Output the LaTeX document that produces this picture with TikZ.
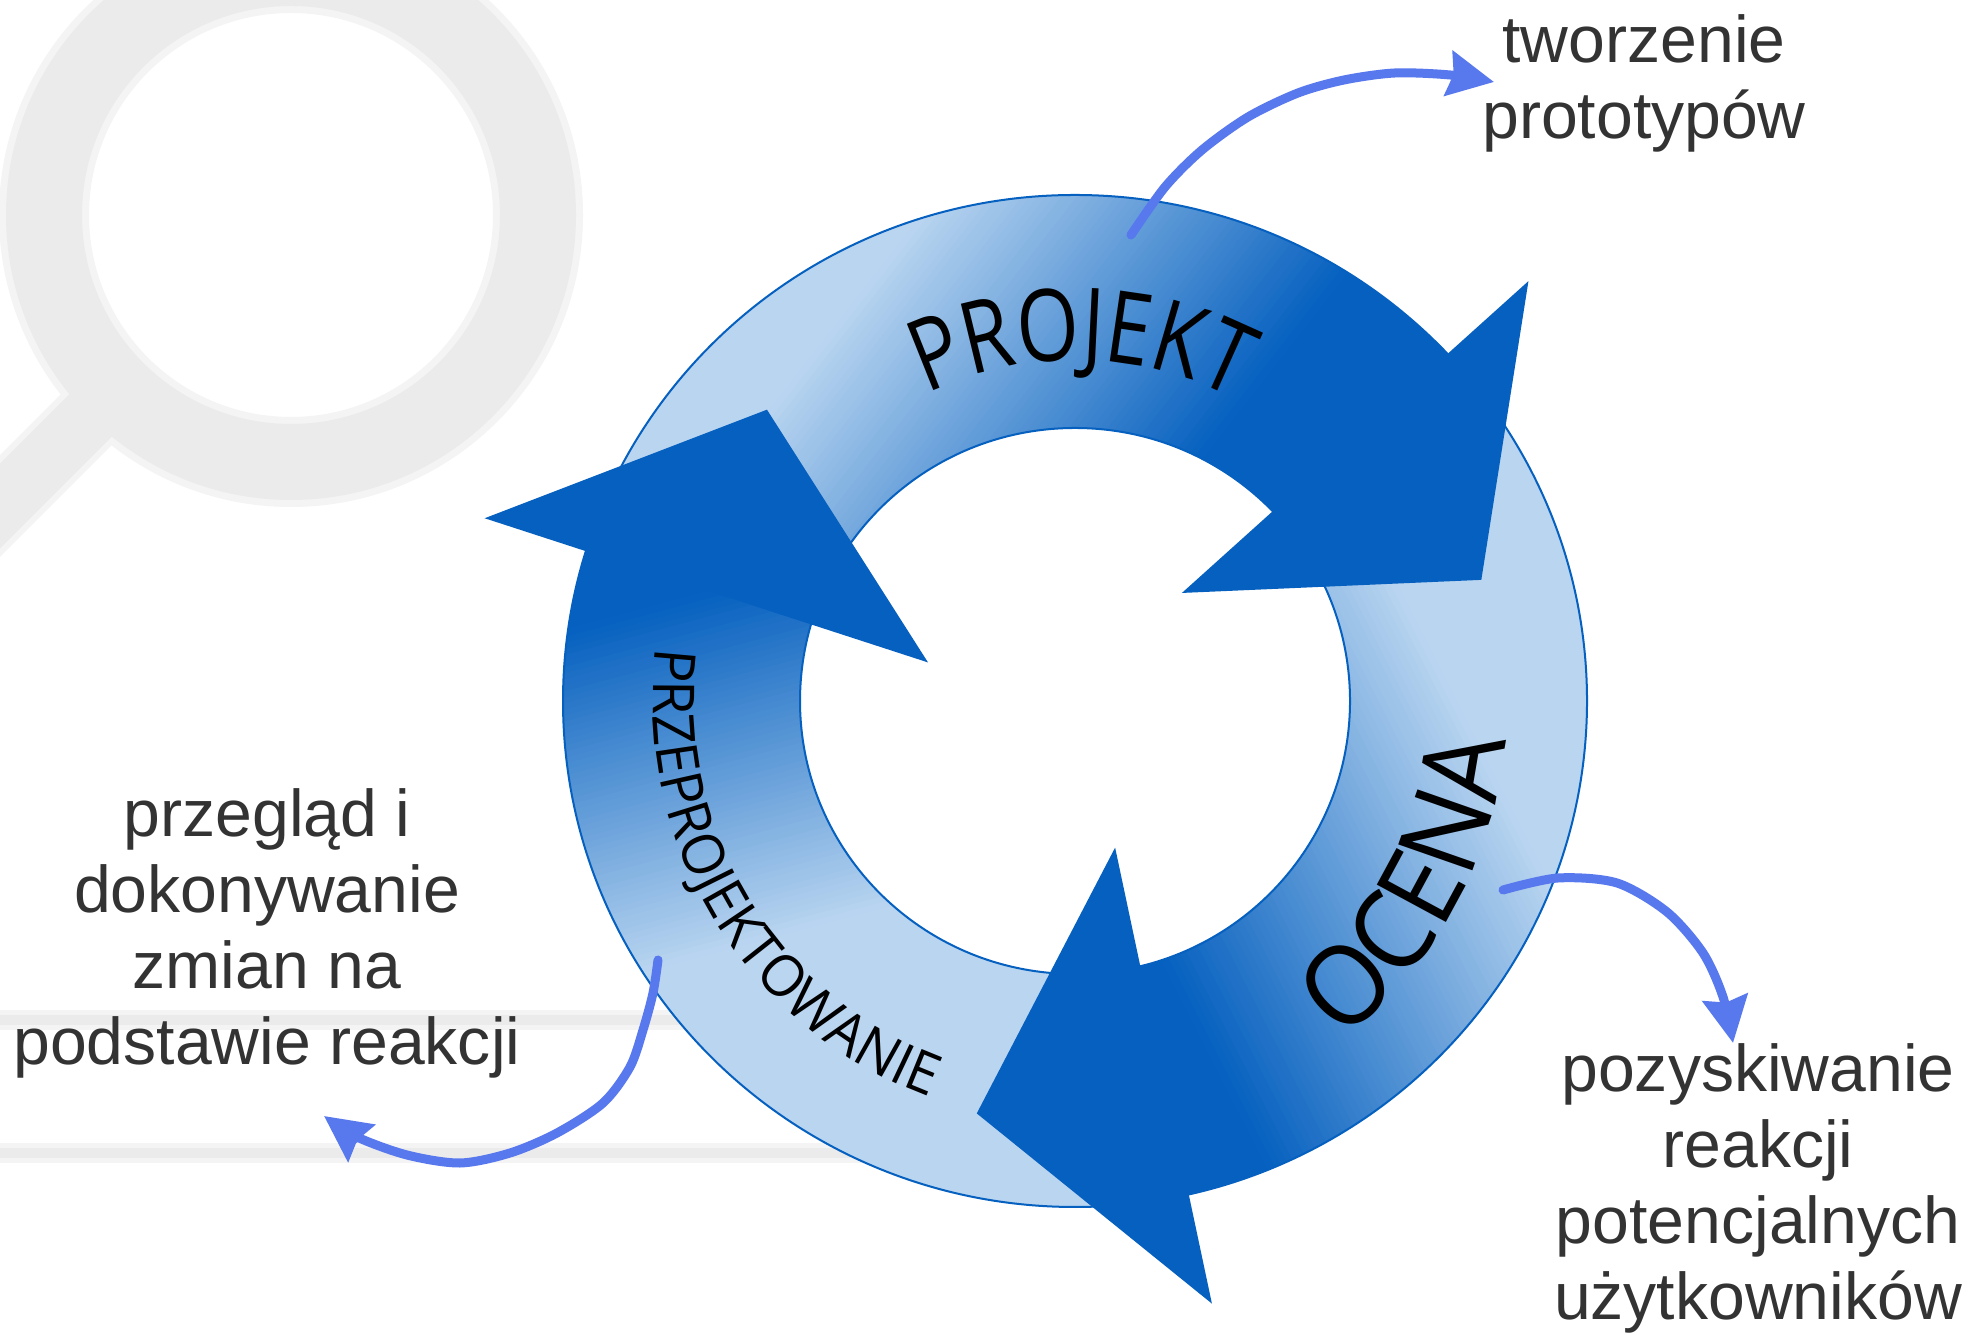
\documentclass[tikz,border=0pt]{standalone}
\usepackage{fontspec}
\setmainfont{Liberation Sans}
\newfontfamily\ringfont[FakeStretch=0.96]{Open Sans}
\newfontfamily\ringfontnarrow[FakeStretch=0.8]{Open Sans}
\newfontfamily\ringfontwide[FakeStretch=0.95]{Open Sans}
\usetikzlibrary{calc,decorations.text,arrows.meta}
\definecolor{ltblue}{RGB}{185,213,240}
\definecolor{dkblue}{RGB}{5,96,191}
\definecolor{conn}{RGB}{88,120,238}
\definecolor{txt}{RGB}{51,51,51}
\definecolor{bggray}{RGB}{235,235,235}
\definecolor{bgsoft}{RGB}{244,244,244}
\newcommand\projstyle{\ringfontnarrow\fontsize{28.45pt}{30pt}\selectfont}
\newcommand\ocenastyle{\ringfontwide\fontsize{31.3pt}{33pt}\selectfont}
\newcommand\przestyle{\ringfont\fontsize{16.4pt}{17pt}\selectfont}
\begin{document}
\begin{tikzpicture}[x=0.01cm, y=0.01cm,
  lbl/.style={font=\fontsize{18.8pt}{21.6pt}\selectfont, text=txt, align=center, inner sep=0pt},
  connector/.style={draw=conn, line width=0.09cm, line cap=round, line join=round,
    -{Stealth[length=0.46cm, width=0.45cm, inset=0.05cm]}},
  ringline/.style={draw=dkblue, line width=0.02cm},
  band/.style={line width=0.1cm, draw=bggray},
  bandsoft/.style={line width=0.2cm, draw=bgsoft},
]
\fill[white] (0,0) rectangle (1986,1340);
\useasboundingbox (0,0) rectangle (1986,1340);
\clip (0,0) rectangle (1986,1340);

% background magnifier icon
\coordinate (M) at (291,1125);
\fill[bgsoft, even odd rule] (M) circle[radius=292] (M) circle[radius=202];
\draw[bgsoft, line width=0.72cm] (114,948) -- (-62,772);
\fill[bggray, even odd rule] (M) circle[radius=285] (M) circle[radius=209];
\draw[bggray, line width=0.6cm] (114,948) -- (-62,772);
% background bands
\draw[bandsoft] (0,320) -- (1000,320);
\draw[band] (0,320) -- (1000,320);
\draw[bandsoft] (0,187) -- (1000,187);
\draw[band] (0,187) -- (1000,187);

% ring
\coordinate (C) at (1075,639);
\fill[ltblue, even odd rule] (C) ellipse[x radius=512, y radius=506] (C) ellipse[x radius=275, y radius=273];

% arrow bodies with linear gradients
\foreach \rot/\gax/\gua/\gub in {0/-38/-420/-50, -120/-153/-340/40, 120/105/-150/200} {
  \pgfmathsetmacro\gsa{\rot+162}
  \pgfmathsetmacro\gea{\rot+41}
  \pgfmathsetmacro\gstep{(\gub-\gua)/60}
  \begin{scope}
    \clip ($(C)+(\gsa:512 and 506)$) arc[start angle=\gsa, end angle=\gea, x radius=512, y radius=506]
      -- ($(C)+(\gea:275 and 273)$) arc[start angle=\gea, end angle=\gsa, x radius=275, y radius=273] -- cycle;
    \begin{scope}[shift={(C)}, rotate=\gax]
      \fill[ltblue] (-900,-900) -- (\gua,-900) -- (\gua,900) -- (-900,900) -- cycle;
      \fill[dkblue] (\gub,-900) -- (900,-900) -- (900,900) -- (\gub,900) -- cycle;
      \foreach \i in {0,...,59} {
        \pgfmathsetmacro\gpa{\gua+\gstep*\i}
        \pgfmathsetmacro\gpb{\gua+\gstep*(\i+1)+1.5}
        \pgfmathsetmacro\gpc{(\i+0.5)*10/6}
        \fill[dkblue!\gpc!ltblue] (\gpa,-900) -- (\gpb,-900) -- (\gpb,900) -- (\gpa,900) -- cycle;
      }
    \end{scope}
  \end{scope}
}

% arrowheads
\foreach \rot in {0,-120,120} {
  \pgfmathsetmacro\hA{42.8+\rot}
  \pgfmathsetmacro\hB{16.6+\rot}
  \pgfmathsetmacro\hC{45.3+\rot}
  \fill[dkblue] ($(C)+(\hA:618)$) -- ($(C)+(\hB:424)$) -- ($(C)+(\hC:152)$) -- cycle;
}

% ring outlines
\draw[ringline] (C) ellipse[x radius=512, y radius=506];
\draw[ringline] (C) ellipse[x radius=275, y radius=273];

% ring texts
\path[decorate, decoration={text along path, text align=center, text={|\projstyle|PROJEKT}}]
  ($(C)+(149:341)$) arc[start angle=149, end angle=29, radius=341];
\path[decorate, decoration={text along path, text align=center, text={|\ocenastyle|OCENA}}]
  ($(C)+(-88.5:432)$) arc[start angle=-88.5, end angle=31.5, radius=432];
\path[decorate, decoration={text along path, text align=center, text={|\przestyle|PRZEPROJEKTOWANIE}}]
  ($(C)+(151.3:422)$) arc[start angle=151.3, end angle=271.3, radius=422];

% labels
\node[lbl] (tproto) at (1644,1257) {tworzenie\\prototypów};
\node[lbl] (tprzeg) at (267,407) {przegląd i\\dokonywanie\\zmian na\\podstawie reakcji};
\node[lbl] (tpozy) at (1758,152) {pozyskiwanie\\reakcji\\potencjalnych\\użytkowników};

% connectors
\coordinate (t0) at (1131,1105); \coordinate (t1) at (1165,1153); \coordinate (t2) at (1202,1190);
\coordinate (t3) at (1248,1223); \coordinate (t4) at (1298,1247); \coordinate (t5) at (1344,1260);
\coordinate (t6) at (1395,1267); \coordinate (t7) at (1450,1265); \coordinate (t8) at (1494,1258);
\draw[connector] plot[smooth, tension=0.5] coordinates {(t0) (t1) (t2) (t3) (t4) (t5) (t6) (t7) (t8)};

\coordinate (r0) at (1503,450); \coordinate (r1) at (1558,462); \coordinate (r2) at (1617,457);
\coordinate (r3) at (1667,428); \coordinate (r4) at (1703,387); \coordinate (r5) at (1723,343);
\coordinate (r6) at (1733,297);
\draw[connector] plot[smooth, tension=0.5] coordinates {(r0) (r1) (r2) (r3) (r4) (r5) (r6)};

\coordinate (l0) at (658,380); \coordinate (l1) at (653,347); \coordinate (l2) at (643,310);
\coordinate (l3) at (630,273); \coordinate (l4) at (603,237); \coordinate (l5) at (557,207);
\coordinate (l6) at (510,187); \coordinate (l7) at (460,177); \coordinate (l8) at (407,185);
\coordinate (l9) at (357,203); \coordinate (l10) at (324,224);
\draw[connector] plot[smooth, tension=0.5] coordinates {(l0) (l1) (l2) (l3) (l4) (l5) (l6) (l7) (l8) (l9) (l10)};
\end{tikzpicture}
\end{document}
